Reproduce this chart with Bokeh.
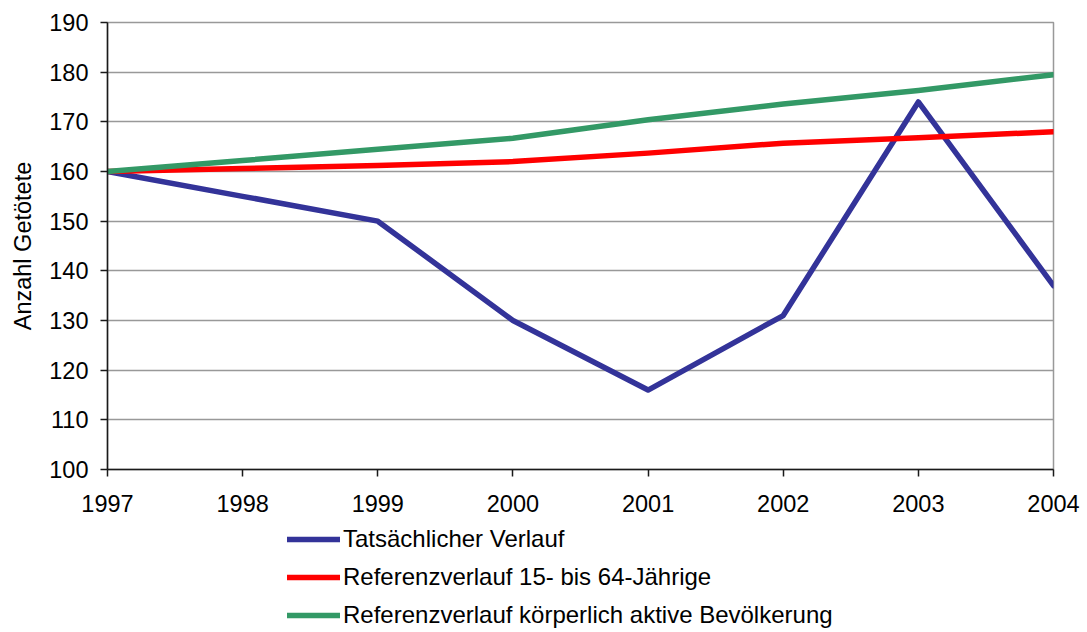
from bokeh.plotting import figure
from bokeh.layouts import column
from bokeh.models import FixedTicker, Legend, LegendItem, Range1d
from bokeh.embed import file_html
from bokeh.resources import INLINE

# ---- data ----
years = [1997, 1998, 1999, 2000, 2001, 2002, 2003, 2004]
year_labels = ["1997", "1998", "1999", "2000", "2001", "2002", "2003", "2004"]
tatsaechlich = [160, 155, 150, 130, 116, 131, 174, 137]
ref_15_64 = [160, 160.6, 161.2, 162.0, 163.7, 165.7, 166.8, 168.0]
ref_aktiv = [160, 162.2, 164.5, 166.7, 170.4, 173.6, 176.3, 179.5]
y_ticks = [100, 110, 120, 130, 140, 150, 160, 170, 180, 190]
series_names = [
    "Tatsächlicher Verlauf",
    "Referenzverlauf 15- bis 64-Jährige",
    "Referenzverlauf körperlich aktive Bevölkerung",
]
series_colors = ["#333399", "#FF0000", "#339966"]
y_label = "Anzahl Getötete"
series_values = [tatsaechlich, ref_15_64, ref_aktiv]

FONT = "Liberation Sans"
FS = "23.5px"
LFS = "24px"
LW = 5.5

# ---- main chart ----
p = figure(
    width=1087, height=524,
    x_range=Range1d(years[0], years[-1]), y_range=Range1d(y_ticks[0], y_ticks[-1]),
    output_backend="svg", toolbar_location=None,
    min_border_left=107, min_border_top=22, min_border_right=34, min_border_bottom=55,
    background_fill_color="white", border_fill_color="white",
)
p.outline_line_color = "#999999"
p.outline_line_width = 1.5
p.xgrid.visible = False
p.ygrid.grid_line_color = "#999999"
p.ygrid.grid_line_width = 1.5

p.xaxis.ticker = FixedTicker(ticks=years)
p.xaxis.major_label_overrides = {y: l for y, l in zip(years, year_labels)}
p.yaxis.ticker = FixedTicker(ticks=y_ticks)
for ax in (p.xaxis[0], p.yaxis[0]):
    ax.axis_line_color = "#1a1a1a"
    ax.axis_line_width = 1.5
    ax.major_tick_line_color = "#1a1a1a"
    ax.major_tick_line_width = 1.5
    ax.major_tick_out = 7
    ax.major_tick_in = 0
    ax.minor_tick_line_color = None
    ax.major_label_text_font = FONT
    ax.major_label_text_font_size = FS
    ax.major_label_text_color = "black"
p.xaxis.major_label_standoff = 18
p.yaxis.major_label_standoff = 12
p.yaxis.axis_label = y_label
p.yaxis.axis_label_text_font = FONT
p.yaxis.axis_label_text_font_size = FS
p.yaxis.axis_label_text_font_style = "normal"
p.yaxis.axis_label_text_color = "black"
p.yaxis.axis_label_standoff = 10

for vals, color in zip(series_values, series_colors):
    p.line(years, vals, line_color=color, line_width=LW,
           line_join="round", line_cap="round")

# ---- legend strip below the chart ----
lf = figure(
    width=1087, height=108,
    x_range=Range1d(0, 1), y_range=Range1d(0, 1),
    output_backend="svg", toolbar_location=None,
    x_axis_type=None, y_axis_type=None, min_border=0,
    background_fill_color="white", border_fill_color="white",
)
lf.outline_line_color = None
lf.grid.visible = False
leg_renderers = []
for vals, color in zip(series_values, series_colors):
    r = lf.line(years, vals, line_color=color, line_width=LW,
                line_join="round", line_cap="round")
    leg_renderers.append(r)

legend = Legend(
    items=[LegendItem(label=n, renderers=[r]) for n, r in zip(series_names, leg_renderers)],
    location=(180, 3),
    orientation="vertical",
    label_text_font=FONT, label_text_font_size=LFS, label_text_color="black",
    glyph_width=53, glyph_height=24, label_height=24, label_standoff=3,
    spacing=10, padding=0, margin=0,
    border_line_color=None, background_fill_alpha=0,
)
lf.add_layout(legend, "center")

layout = column(p, lf, spacing=0)
open("out.html", "w").write(file_html(layout, INLINE))
